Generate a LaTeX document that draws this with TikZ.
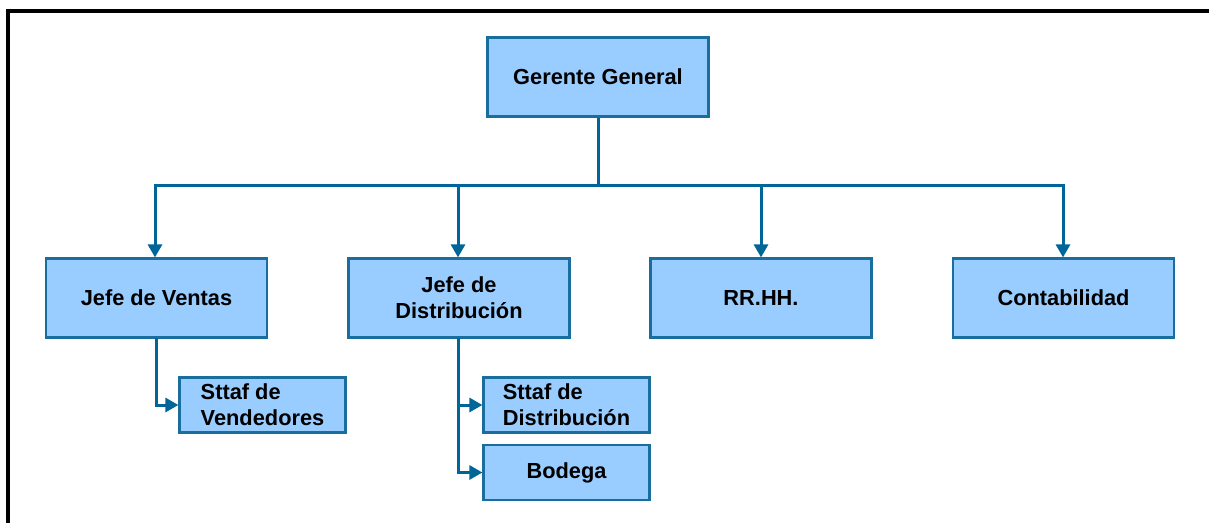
\documentclass[tikz,border=0pt]{standalone}
\usepackage{fontspec}
\setmainfont{Liberation Sans}
\usetikzlibrary{arrows.meta}
\definecolor{boxfill}{HTML}{99CCFF}
\definecolor{boxline}{HTML}{1A6E9E}
\definecolor{linkblue}{HTML}{006699}
\begin{document}
\begin{tikzpicture}[x=1pt,y=-1pt,
  unit/.style={draw=boxline, fill=boxfill, line width=2.2pt, inner sep=0pt,
    font=\fontsize{21.8}{26}\selectfont\bfseries},
  bigbox/.style={unit, minimum width=221pt, minimum height=79pt, align=center},
  smallbox/.style={unit, minimum width=166pt, minimum height=55pt, align=left},
  link/.style={draw=linkblue, line width=3pt},
  arrowlink/.style={link, -{Triangle[width=14pt,length=13pt]}}]
\useasboundingbox (0,0) rectangle (1209,522);
% outer frame
\draw[line width=4pt, line cap=rect] (8,530) -- (8,11) -- (1215,11);

% boxes
\node[bigbox] (gg) at (598,77) {Gerente General};
\node[bigbox] (jv) at (156.5,298) {Jefe de Ventas};
\node[bigbox] (jd) at (459,298) {Jefe de\\Distribución};
\node[bigbox] (rh) at (761,298) {RR.HH.};
\node[bigbox] (ct) at (1063.5,298) {Contabilidad};
\node[smallbox] (sv) at (262.5,405) {Sttaf de\\Vendedores};
\node[smallbox] (sd) at (566.5,405) {Sttaf de\\Distribución};
\node[smallbox, align=center] (bd) at (566.5,472.5) {Bodega};

% top-level tree
\coordinate (bus) at (598,185);
\coordinate (busL) at (155,185);
\coordinate (busR) at (1063,185);
\draw[link] (gg.south) -- (bus);
\draw[link, line cap=rect] (busL) -- (busR);
\draw[arrowlink] (busL) -- (jv.north -| busL);
\draw[arrowlink] (458,185) -- (jd.north -| 458,0);
\draw[arrowlink] (761,185) -- (rh.north);
\draw[arrowlink] (busR) -- (ct.north -| busR);

% sub-units
\coordinate (jvd) at (156,338);
\coordinate (jdd) at (458,338);
\draw[arrowlink] (jvd) |- (sv.west);
\draw[arrowlink] (jdd) |- (sd.west);
\draw[arrowlink] (jdd) |- (bd.west);
\end{tikzpicture}
\end{document}
